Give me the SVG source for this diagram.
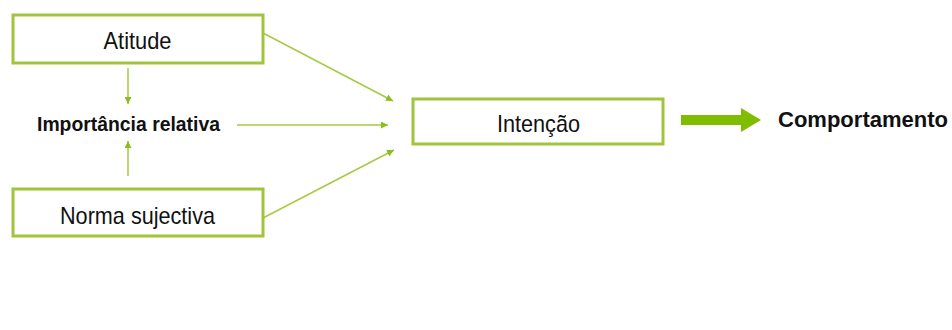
<svg xmlns="http://www.w3.org/2000/svg" width="952" height="330" viewBox="0 0 952 330">
<style>
.box{fill:#fff;stroke:#a0c43c;stroke-width:3}
.t{font-family:"Liberation Sans",Arial,sans-serif;fill:#111;text-anchor:middle}
.b{font-weight:bold}
.ln{stroke:#a6ca42;stroke-width:1.5;fill:none;marker-end:url(#ah)}
</style>
<defs>
<marker id="ah" viewBox="0 0 10 10" refX="10" refY="5" markerWidth="7" markerHeight="7" markerUnits="userSpaceOnUse" orient="auto">
<path d="M0,0 L10,5 L0,10 Z" fill="#8dbd1c"/>
</marker>
</defs>
<rect width="952" height="330" fill="#fff"/>
<g id="connectors">
<line class="ln" x1="128" y1="68" x2="128" y2="104"/>
<line class="ln" x1="128" y1="176" x2="128" y2="141"/>
<line class="ln" x1="237" y1="125" x2="388" y2="125"/>
<line class="ln" x1="263" y1="33" x2="393" y2="101"/>
<line class="ln" x1="263" y1="218" x2="394" y2="150"/>
<path id="big-arrow" d="M681,115 L741,115 L741,108 L761,120 L741,132 L741,125 L681,125 Z" fill="#80bc00"/>
</g>
<g id="atitude">
<rect class="box" x="13" y="15" width="250" height="48"/>
<text class="t" x="137.5" y="48.5" font-size="24" textLength="68" lengthAdjust="spacingAndGlyphs">Atitude</text>
</g>
<g id="importancia">
<text class="t b" x="128.5" y="131" font-size="21" textLength="183" lengthAdjust="spacingAndGlyphs">Importância relativa</text>
</g>
<g id="norma">
<rect class="box" x="13" y="189" width="250" height="47"/>
<text class="t" x="137.5" y="224" font-size="24" textLength="155" lengthAdjust="spacingAndGlyphs">Norma sujectiva</text>
</g>
<g id="intencao">
<rect class="box" x="413" y="99" width="250" height="45"/>
<text class="t" x="538.5" y="132" font-size="24" textLength="83" lengthAdjust="spacingAndGlyphs">Intenção</text>
</g>
<g id="comportamento">
<text class="t b" x="863" y="127" font-size="22" textLength="170" lengthAdjust="spacingAndGlyphs">Comportamento</text>
</g>
</svg>
